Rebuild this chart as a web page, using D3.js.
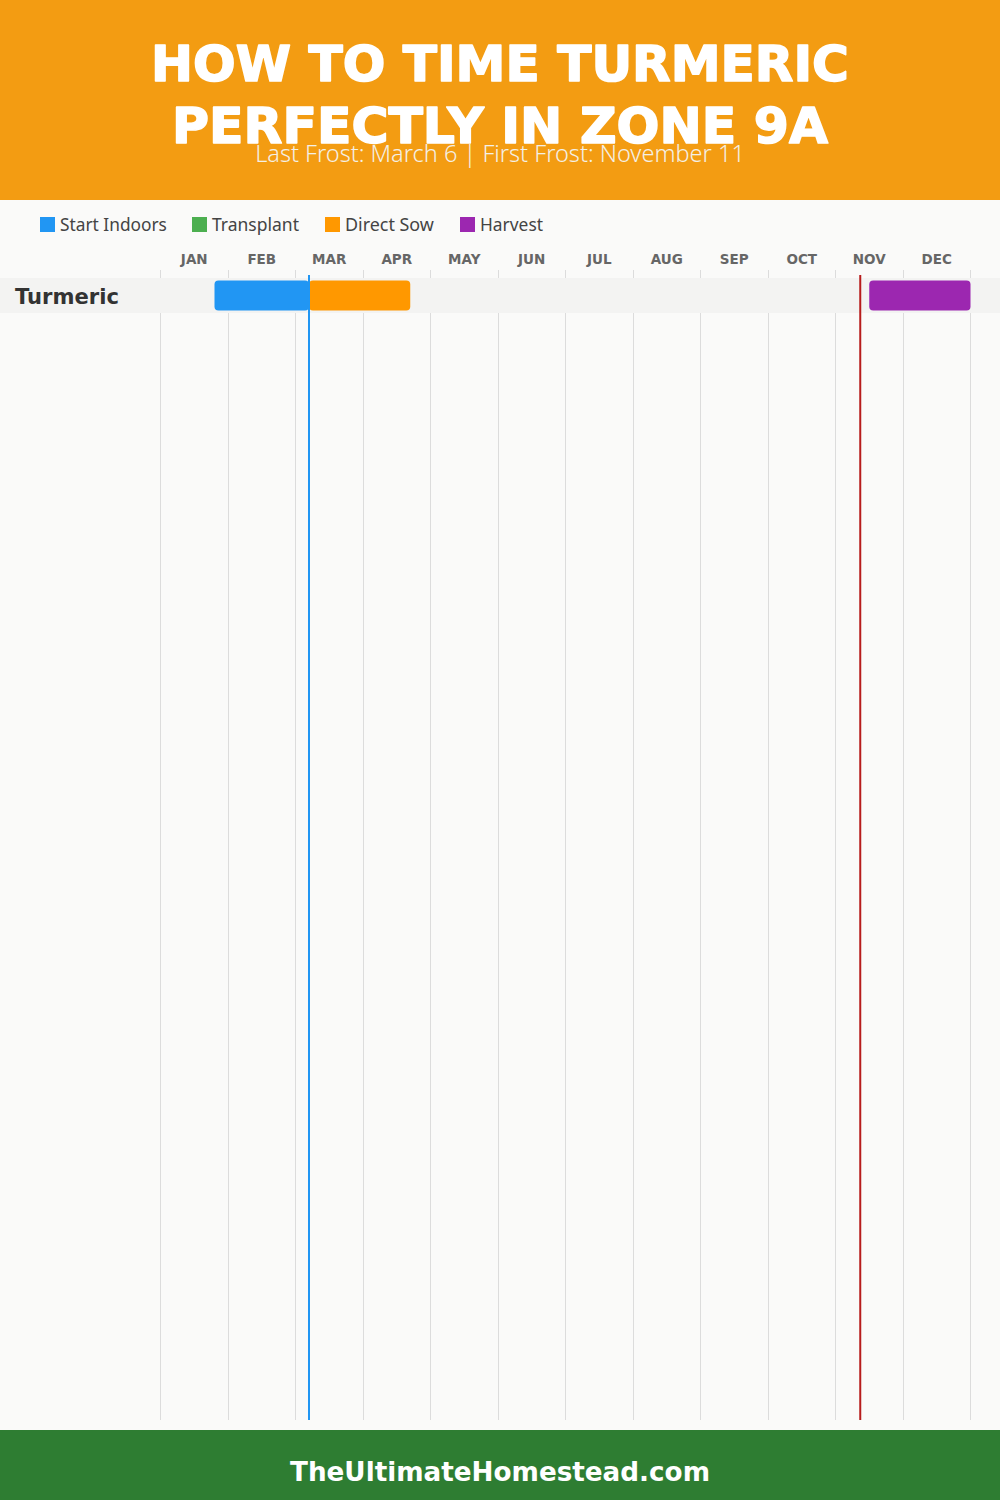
<!DOCTYPE html>
<html>
<head>
<meta charset="utf-8">
<script src="https://cdn.jsdelivr.net/npm/d3@7/dist/d3.min.js"></script>
<style>
  html, body { margin: 0; padding: 0; background: #fafaf9; }
  svg { display: block; }
</style>
</head>
<body>
<script>
// ---- data ----
const titleLines = ["HOW TO TIME TURMERIC", "PERFECTLY IN ZONE 9A"];
const subtitle = "Last Frost: March 6 | First Frost: November 11";
const footerText = "TheUltimateHomestead.com";
const months = ["JAN","FEB","MAR","APR","MAY","JUN","JUL","AUG","SEP","OCT","NOV","DEC"];
const legendNames = ["Start Indoors","Transplant","Direct Sow","Harvest"];
const legendColors = ["#2196F3","#4CAF50","#FF9800","#9C27B0"];
const crops = ["Turmeric"];
// [crop, activity, start [month, day], end [month, day]]
const tasks = [
  ["Turmeric","Start Indoors",[1,24],[3,6]],
  ["Turmeric","Direct Sow",[3,6],[4,21]],
  ["Turmeric","Harvest",[11,15],[12,31]]
];
const lastFrost = [3,6];
const firstFrost = [11,11];

// ---- layout ----
const W = 1000, H = 1500;
const svg = d3.select("body").append("svg").attr("width", W).attr("height", H);
const FONT = "'DejaVu Sans', 'Noto Sans', sans-serif";
const BODY = "'Noto Sans', 'Open Sans', sans-serif";

function fit(sel, target) {
  const w = sel.node().getComputedTextLength();
  const fs = parseFloat(sel.attr("font-size"));
  sel.attr("font-size", (fs * target / w).toFixed(2));
}

svg.append("rect").attr("width", W).attr("height", H).attr("fill", "#fafaf9");
// header
svg.append("rect").attr("width", W).attr("height", 200).attr("fill", "#F39C12");
const tY = [81, 143];
titleLines.forEach((t, i) => {
  const s = svg.append("text").attr("x", W/2).attr("y", tY[i]).attr("text-anchor", "middle")
    .attr("fill", "#fff").attr("stroke", "#fff").attr("stroke-width", 1.6)
    .attr("stroke-linejoin", "round")
    .attr("font-family", FONT).attr("font-weight", 900)
    .attr("font-size", 52).text(t);
  fit(s, i === 0 ? 698 : 656);
});
const sub = svg.append("text").attr("x", W/2).attr("y", 162).attr("text-anchor", "middle")
  .attr("fill", "#f4f0e6").attr("font-family", BODY).attr("font-weight", 300)
  .attr("font-size", 20).text(subtitle);
fit(sub, 490);

// legend
const legendX = [40, 192, 325, 460];
const legendW = [107, 87, 89, 63];
const lg = svg.append("g");
legendNames.forEach((n, i) => {
  lg.append("rect").attr("x", legendX[i]).attr("y", 217).attr("width", 15).attr("height", 15)
    .attr("fill", legendColors[i]);
  const t = lg.append("text").attr("x", legendX[i] + 20).attr("y", 231).attr("fill", "#444")
    .attr("font-family", BODY).attr("font-size", 16).text(n);
  fit(t, legendW[i]);
});

// scales
const x = d3.scaleLinear().domain([0, 12]).range([160.5, 970.5]);
const pos = md => Math.min(12, (md[0] - 1) + md[1] / 30);
const rowTop = 278, rowH = 35;
const y = d3.scaleBand().domain(crops).range([rowTop, rowTop + rowH * crops.length]).padding(0);
const color = d3.scaleOrdinal().domain(legendNames).range(legendColors);
const gridTop = 270, gridBottom = 1420;

// month labels
svg.append("g").selectAll("text").data(months).join("text")
  .attr("x", (d, i) => x(i + 0.5)).attr("y", 264).attr("text-anchor", "middle")
  .attr("fill", "#666").attr("font-family", FONT).attr("font-weight", "bold")
  .attr("font-size", 13.5).text(d => d);

// grid lines
svg.append("g").selectAll("line").data(d3.range(13)).join("line")
  .attr("x1", d => Math.floor(x(d)) + 0.5).attr("x2", d => Math.floor(x(d)) + 0.5)
  .attr("y1", gridTop).attr("y2", gridBottom)
  .attr("stroke", "#dcdcdc").attr("stroke-width", 1);

// row bands
svg.append("g").selectAll("rect").data(crops).join("rect")
  .attr("x", 0).attr("width", W).attr("y", d => y(d)).attr("height", y.bandwidth())
  .attr("fill", "#f3f3f2");

// row labels
svg.append("g").selectAll("text").data(crops).join("text")
  .attr("x", 15).attr("y", d => y(d) + y.bandwidth() / 2 + 8)
  .attr("fill", "#333").attr("font-family", FONT).attr("font-weight", "bold")
  .attr("font-size", 21).text(d => d)
  .each(function() { fit(d3.select(this), 104); });

// bars
svg.append("g").selectAll("rect").data(tasks).join("rect")
  .attr("x", d => x(pos(d[2]))).attr("width", d => x(pos(d[3])) - x(pos(d[2])))
  .attr("y", d => y(d[0]) + 2.5).attr("height", y.bandwidth() - 5)
  .attr("rx", 4).attr("fill", d => color(d[1]));

// frost lines
[[lastFrost, "#2196F3"], [firstFrost, "#B71C1C"]].forEach(([f, c]) => {
  svg.append("line").attr("x1", x(pos(f))).attr("x2", x(pos(f)))
    .attr("y1", 275).attr("y2", gridBottom).attr("stroke", c).attr("stroke-width", 2);
});

// footer
svg.append("rect").attr("y", 1430).attr("width", W).attr("height", 70).attr("fill", "#2E7D32");
const ft = svg.append("text").attr("x", W/2).attr("y", 1481).attr("text-anchor", "middle")
  .attr("fill", "#fff").attr("font-family", FONT).attr("font-weight", "bold")
  .attr("font-size", 28).text(footerText);
fit(ft, 420);
</script>
</body>
</html>
